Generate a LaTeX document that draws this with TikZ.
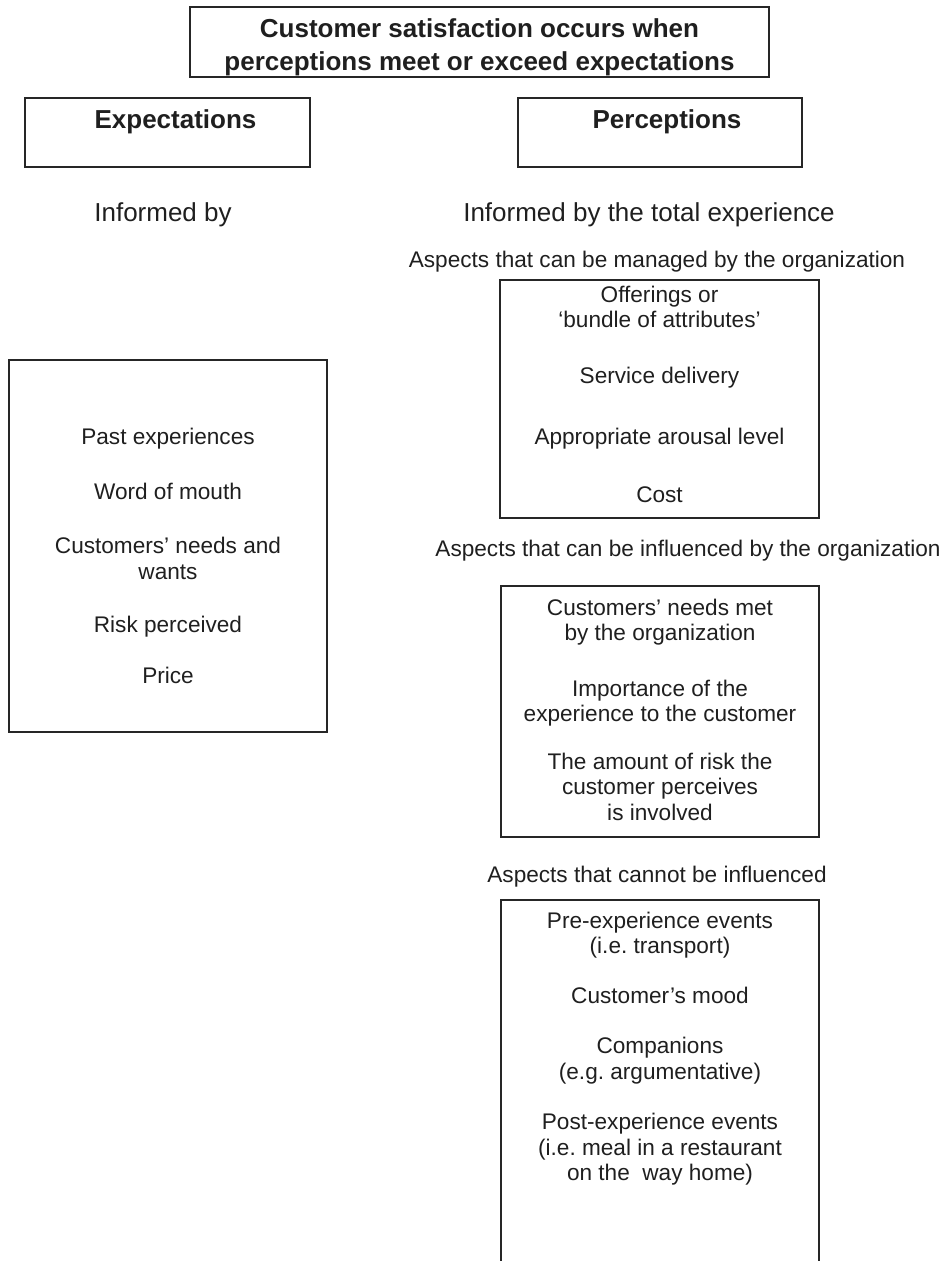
\documentclass[tikz,border=0pt]{standalone}
\usepackage{fontspec}
\setmainfont{Liberation Sans}
\usepackage{xcolor}
\usepackage{tikz}
\usetikzlibrary{positioning}
\frenchspacing
\tikzset{
  frame/.style={draw=black!85,line width=1.8pt,inner sep=0pt,fill=none},
  heading/.style={font=\bfseries\fontsize{26}{33}\selectfont,text=black!88,inner sep=0pt,align=center},
  bignote/.style={font=\fontsize{26}{30}\selectfont,text=black!88,inner sep=0pt},
  note/.style={font=\fontsize{22.6}{25.5}\selectfont,text=black!88,inner sep=0pt},
  items/.style={font=\fontsize{22.6}{25.5}\selectfont,text=black!88,inner sep=0pt,align=center}
}
\begin{document}
\begin{tikzpicture}[x=1pt,y=-1pt]
    \useasboundingbox (0,0) rectangle (948,1261);
    \clip (0,0) rectangle (948,1261);
    \node[frame,minimum width=579pt,minimum height=70pt] (goal) at (479.5,42) {};
    \node[heading,below=12pt of goal.north] (goaltext) {Customer satisfaction occurs when\\perceptions meet or exceed expectations};
    \node[frame,minimum width=285pt,minimum height=69pt] (expbox) at (167.5,132.5) {};
    \node[heading,below=12pt of expbox.north,xshift=8pt] (exptitle) {Expectations};
    \node[frame,minimum width=284pt,minimum height=69pt] (percbox) at (660,132.5) {};
    \node[heading,below=12pt of percbox.north,xshift=7pt] (perctitle) {Perceptions};
    \node[bignote] (expinfo) at (163,215) {Informed by};
    \node[bignote] (percinfo) at (649,215) {Informed by the total experience};
    \node[frame,minimum width=318pt,minimum height=372pt] (expect) at (168,546) {};
    \node[items,below=69pt of expect.north] (expectitems) {Past experiences\\[29pt]Word of mouth\\[29pt]Customers' needs and\\wants\\[28pt]Risk perceived\\[25pt]Price};
    \node[note] (managedhead) at (657,262) {Aspects that can be managed by the organization};
    \node[frame,minimum width=319pt,minimum height=238pt] (managed) at (659.5,399) {};
    \node[items,below=6.5pt of managed.north] (manageditems) {Offerings or\\`bundle of attributes'\\[30pt]Service delivery\\[36pt]Appropriate arousal level\\[32pt]Cost};
    \node[note] (influhead) at (688,551) {Aspects that can be influenced by the organization};
    \node[frame,minimum width=318pt,minimum height=251pt] (influ) at (660,711.5) {};
    \node[items,below=13.5pt of influ.north] (influitems) {Customers' needs met\\by the organization\\[30pt]Importance of the\\experience to the customer\\[22pt]The amount of risk the\\customer perceives\\is involved};
    \node[note] (fixedhead) at (657,877) {Aspects that cannot be influenced};
    \node[frame,minimum width=318pt,minimum height=380pt] (fixed) at (660,1090) {};
    \node[items,below=12.5pt of fixed.north] (fixeditems) {Pre-experience events\\(i.e. transport)\\[24pt]Customer's mood\\[25pt]Companions\\(e.g. argumentative)\\[25pt]Post-experience events\\(i.e. meal in a restaurant\\on the~ way home)};
  \end{tikzpicture}
\end{document}
